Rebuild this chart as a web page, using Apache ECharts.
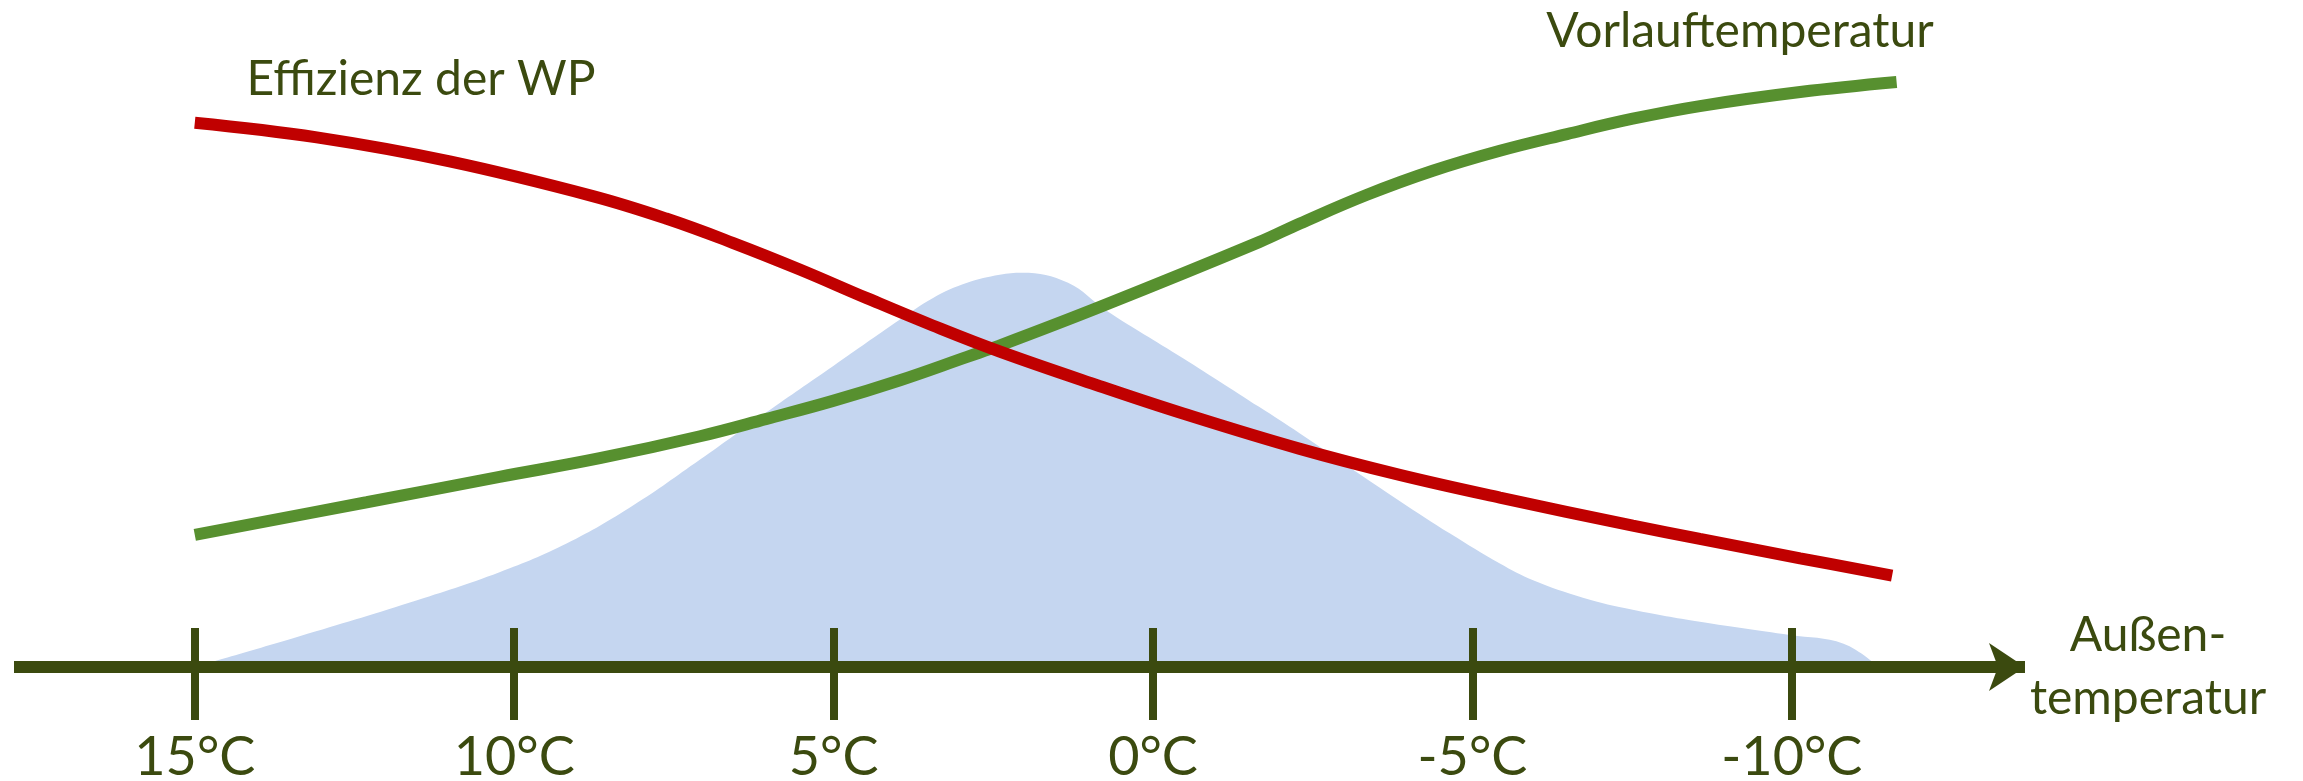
<!DOCTYPE html>
<html>
<head>
<meta charset="utf-8">
<script src="https://cdn.jsdelivr.net/npm/echarts@6/dist/echarts.min.js"></script>
<style>
  html, body { margin: 0; padding: 0; background: #fff; }
  #chart { width: 2303px; height: 781px; }
</style>
</head>
<body>
<div id="chart"></div>
<script>
// outside temperature (°C) on x, values in relative units (0 = axis)
const tickTemps = [15, 10, 5, 0, -5, -10]
const tickLabels = ['15°C', '10°C', '5°C', '0°C', '-5°C', '-10°C']

// Effizienz der WP
const effTemps = [15.0, 13.09, 11.01, 8.77, 7.61, 6.58, 5.53, 4.48, 3.45, 2.40, 0.83, -0.47, -2.30, -3.86, -5.43, -7.51, -8.56, -10.13, -11.57]
const effValues = [81.6, 79.4, 75.8, 70.6, 67.2, 63.6, 59.6, 55.3, 51.2, 47.3, 42.1, 38.0, 32.7, 28.8, 25.4, 21.2, 19.2, 16.3, 13.7]

// Vorlauftemperatur
const flowTemps = [15.0, 12.31, 10.23, 8.66, 7.09, 6.05, 5.01, 3.96, 2.91, 2.40, 0.80, -1.66, -2.30, -3.35, -4.38, -5.43, -6.48, -7.51, -8.56, -10.13, -11.64]
const flowValues = [19.8, 24.7, 28.5, 31.3, 34.6, 37.2, 39.9, 43.0, 46.5, 48.2, 54.1, 63.7, 66.5, 70.8, 74.4, 77.4, 79.9, 82.2, 84.1, 86.2, 87.7]

// Bereitgestellte Heizwärme
const heatTemps = [15.0, 13.36, 11.62, 10.23, 9.18, 8.14, 7.09, 6.05, 5.01, 3.96, 3.45, 2.91, 2.40, 2.05, 1.33, 0.74, -0.47, -1.66, -2.30, -3.08, -3.86, -4.65, -5.43, -5.95, -6.73, -7.51, -8.56, -9.97, -10.81, -11.36]
const heatValues = [0, 4.6, 9.7, 14.2, 18.5, 24.2, 31.1, 38.2, 45.1, 52.1, 55.3, 57.6, 58.8, 59.1, 57.6, 53.5, 46.3, 39.0, 35.0, 29.9, 24.9, 20.0, 15.5, 13.0, 10.4, 8.6, 6.8, 4.8, 3.5, 0]

const textColor = '#3B4A0F'
const font = 'Lato'

function zip(xs, ys) {
  return xs.map((x, i) => [x, ys[i]])
}

const chart = echarts.init(document.getElementById('chart'))

chart.setOption({
  animation: false,
  grid: { left: 14, right: 278, top: 0, bottom: 114, outerBoundsMode: 'none', containLabel: false },
  xAxis: [{
    type: 'value',
    inverse: true,
    min: -13.65,
    max: 17.83,
    position: 'bottom',
    z: 10,
    name: 'Außen-\ntemperatur',
    nameLocation: 'start',
    nameGap: 123,
    nameTextStyle: {
      color: textColor, fontFamily: font, fontSize: 48,
      align: 'center', verticalAlign: 'middle', lineHeight: 63
    },
    axisLine: {
      show: true,
      symbol: ['none', 'arrow'],
      symbolSize: [36, 36],
      lineStyle: { color: textColor, width: 12, cap: 'butt' }
    },
    axisTick: {
      show: true,
      customValues: tickTemps,
      length: 53,
      lineStyle: { color: textColor, width: 8 }
    },
    axisLabel: {
      customValues: tickTemps,
      margin: 64,
      color: textColor,
      fontFamily: font,
      fontSize: 54,
      formatter: (v) => tickLabels[tickTemps.indexOf(v)]
    },
    splitLine: { show: false }
  }, {
    // upper half of the ticks
    type: 'value',
    inverse: true,
    min: -13.65,
    max: 17.83,
    position: 'bottom',
    z: 10,
    axisLine: { show: false },
    axisTick: {
      show: true,
      inside: true,
      customValues: tickTemps,
      length: 39,
      lineStyle: { color: textColor, width: 8 }
    },
    axisLabel: { show: false },
    splitLine: { show: false }
  }],
  yAxis: {
    type: 'value',
    min: 0,
    max: 100,
    show: false
  },
  series: [{
    name: 'Bereitgestellte Heizwärme',
    type: 'line',
    data: zip(heatTemps, heatValues),
    smooth: 0.4,
    showSymbol: false,
    lineStyle: { width: 0 },
    areaStyle: { color: '#C5D6F0', opacity: 1 },
    z: 1
  }, {
    name: 'Vorlauftemperatur',
    type: 'line',
    data: zip(flowTemps, flowValues),
    smooth: 0.4,
    showSymbol: false,
    lineStyle: { color: '#57902F', width: 12, cap: 'butt' },
    z: 3
  }, {
    name: 'Effizienz der WP',
    type: 'line',
    data: zip(effTemps, effValues),
    smooth: 0.4,
    showSymbol: false,
    lineStyle: { color: '#C00000', width: 12, cap: 'butt' },
    z: 4
  }],
  graphic: [{
    type: 'text',
    x: 421, y: 80,
    style: { text: 'Effizienz der WP', fill: textColor, font: '48px Lato', align: 'center', verticalAlign: 'middle' }
  }, {
    type: 'text',
    x: 1740, y: 32,
    style: { text: 'Vorlauftemperatur', fill: textColor, font: '48px Lato', align: 'center', verticalAlign: 'middle' }
  }, {
    type: 'text',
    x: 1035, y: 515,
    style: { text: 'Bereitgestellte\nHeizwärme', fill: textColor, font: '48px Lato', lineHeight: 64, align: 'center', verticalAlign: 'middle' }
  }]
})
</script>
</body>
</html>
